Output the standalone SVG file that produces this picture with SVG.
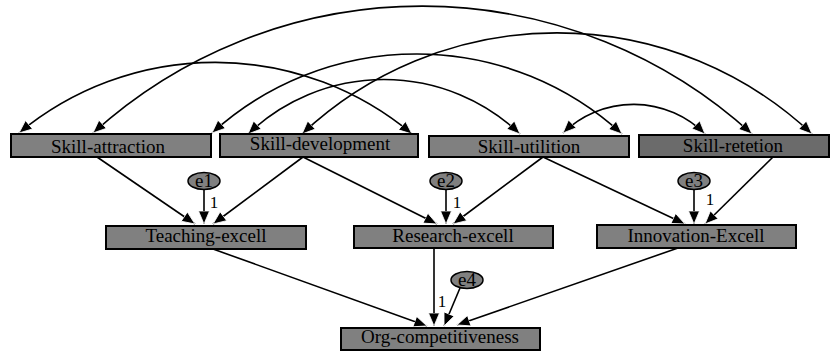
<svg xmlns="http://www.w3.org/2000/svg" width="830" height="351" viewBox="0 0 830 351">
<style>
.box{fill:#808080;stroke:#000;stroke-width:2}
.dark{fill:#6b6b6b}
.err{fill:#808080;stroke:#000;stroke-width:1.5}
text{font-family:'Liberation Serif','DejaVu Serif','Times New Roman',serif;font-weight:normal;fill:#000;text-anchor:middle}
.lbl{font-size:19px}
.one{font-size:17px}
.ln{fill:none;stroke:#000;stroke-width:1.6}
.one-way{marker-end:url(#ah)}
.two-way{marker-start:url(#ah);marker-end:url(#ah)}
</style>
<defs>
<marker id="ah" markerUnits="userSpaceOnUse" markerWidth="14" markerHeight="12" refX="13" refY="6" orient="auto-start-reverse" viewBox="0 0 14 12">
<path d="M0,0.5 L13,6 L0,11.5 z" fill="#000" stroke="#fff" stroke-width="0.8"/>
</marker>
</defs>
<rect width="830" height="351" fill="#fff"/>
<g id="connectors">
<path class="ln two-way" d="M19,133 A307,307 0 0 1 412,134"/>
<path class="ln two-way" d="M93,133 A490,490 0 0 1 752,134"/>
<path class="ln two-way" d="M212,133 A304,304 0 0 1 622,134"/>
<path class="ln two-way" d="M248,134 A197,197 0 0 1 520,134"/>
<path class="ln two-way" d="M302,134 A372,372 0 0 1 812,134"/>
<path class="ln two-way" d="M563,133 A101,101 0 0 1 705,134"/>
<line class="ln one-way" x1="97" y1="157" x2="195" y2="224"/>
<line class="ln one-way" x1="303" y1="157" x2="213" y2="224"/>
<line class="ln one-way" x1="303" y1="157" x2="437" y2="224"/>
<line class="ln one-way" x1="543" y1="157" x2="453" y2="224"/>
<line class="ln one-way" x1="543" y1="157" x2="685" y2="224"/>
<line class="ln one-way" x1="773" y1="157" x2="705" y2="224"/>
<line class="ln one-way" x1="204" y1="189" x2="204" y2="224"/>
<line class="ln one-way" x1="446" y1="189" x2="446" y2="224"/>
<line class="ln one-way" x1="694" y1="189" x2="694" y2="224"/>
<line class="ln one-way" x1="213" y1="249" x2="427" y2="326"/>
<line class="ln one-way" x1="434" y1="249" x2="434" y2="326"/>
<line class="ln one-way" x1="460" y1="288" x2="444" y2="326"/>
<line class="ln one-way" x1="678" y1="248" x2="457" y2="325"/>
<text class="one" x="214" y="208">1</text>
<text class="one" x="457" y="208">1</text>
<text class="one" x="710" y="205">1</text>
<text class="one" x="442" y="307">1</text>
</g>
<g id="skill-attraction">
<rect class="box" x="11" y="134" width="200" height="23"/>
<text class="lbl" x="108" y="153">Skill-attraction</text>
</g>
<g id="skill-development">
<rect class="box" x="220" y="134" width="198" height="23"/>
<text class="lbl" x="320" y="150">Skill-development</text>
</g>
<g id="skill-utilition">
<rect class="box" x="429" y="136" width="200" height="21"/>
<text class="lbl" x="529" y="153">Skill-utilition</text>
</g>
<g id="skill-retetion">
<rect class="box dark" x="639" y="135" width="190" height="22"/>
<text class="lbl" x="733" y="152">Skill-retetion</text>
</g>
<g id="teaching-excell">
<rect class="box" x="106" y="226" width="200" height="23"/>
<text class="lbl" x="206" y="242">Teaching-excell</text>
</g>
<g id="research-excell">
<rect class="box" x="354" y="226" width="199" height="22"/>
<text class="lbl" x="453" y="242">Research-excell</text>
</g>
<g id="innovation-excell">
<rect class="box" x="597" y="225" width="199" height="23"/>
<text class="lbl" x="696" y="242">Innovation-Excell</text>
</g>
<g id="org-competitiveness">
<rect class="box" x="341" y="328" width="199" height="22"/>
<text class="lbl" x="440" y="343">Org-competitiveness</text>
</g>
<g id="e1">
<ellipse class="err" cx="204" cy="181" rx="16" ry="8.5"/>
<text class="lbl" x="204" y="187">e1</text>
</g>
<g id="e2">
<ellipse class="err" cx="446" cy="181" rx="16" ry="8.5"/>
<text class="lbl" x="446" y="187">e2</text>
</g>
<g id="e3">
<ellipse class="err" cx="694" cy="181" rx="16" ry="8.5"/>
<text class="lbl" x="694" y="187">e3</text>
</g>
<g id="e4">
<ellipse class="err" cx="467" cy="280" rx="16" ry="8.5"/>
<text class="lbl" x="467" y="286">e4</text>
</g>
</svg>
